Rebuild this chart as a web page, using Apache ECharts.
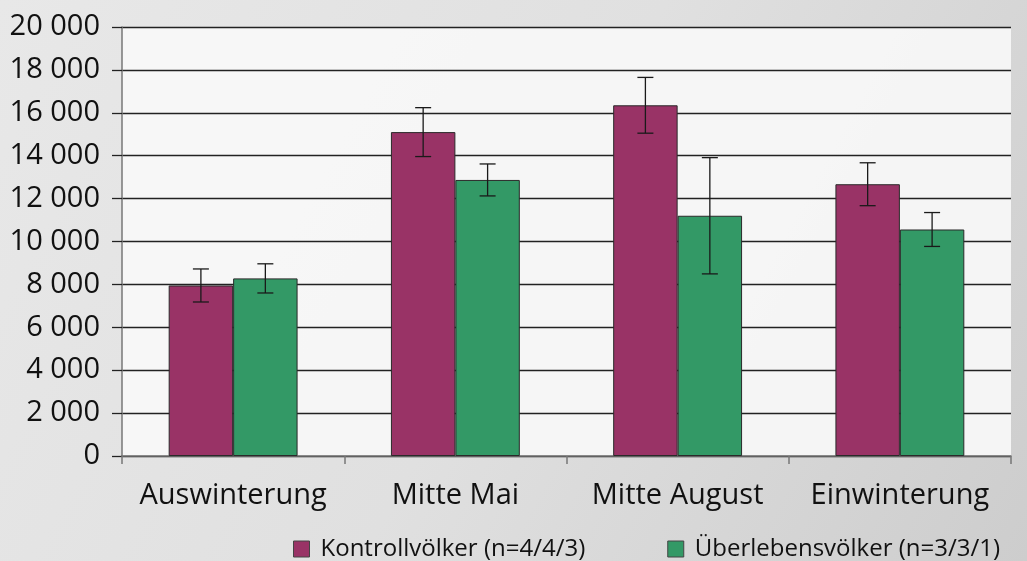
<!DOCTYPE html>
<html style="height: 100%;width:100%">
<head>
	<title>Chart Report</title>
	<meta charset="UTF-8">
	<style type="text/css">
		body{ height:100%;width:100%; margin:0px; }
		#container{ width:1027px; height:561px; }
	</style>
	<script src="https://cdn.jsdelivr.net/npm/echarts@6/dist/echarts.min.js"></script>
</head>
<body>
<div id="container"></div>

<script type="text/javascript">

// chart data
var categories = ['Auswinterung', 'Mitte Mai', 'Mitte August', 'Einwinterung'];
var seriesNames = ['Kontrollvölker (n=4/4/3)', 'Überlebensvölker (n=3/3/1)'];
var kontrollValues = [7950, 15100, 16350, 12670];
var kontrollErrors = [770, 1140, 1300, 1000];
var ueberlebenValues = [8280, 12870, 11200, 10560];
var ueberlebenErrors = [680, 745, 2710, 790];
var yTicks = [0, 2000, 4000, 6000, 8000, 10000, 12000, 14000, 16000, 18000, 20000];

var colorsList = ['#993366', '#339966'];
var fontName = "'Open Sans', 'Noto Sans', sans-serif";
var categoryGap = 0.42;

var dom = document.getElementById("container");
var myChart = echarts.init(dom);

var errorData = function(values, errors) {
	var list = [];
	for (var i = 0; i < values.length; i++) {
		list.push([i, values[i] - errors[i], values[i] + errors[i]]);
	}
	return list;
};

// draws one error bar, shifted onto its bar (side -1 = left bar, 1 = right bar)
var errorRenderer = function(side) {
	return function(params, api) {
		var idx = api.value(0);
		var low = api.coord([idx, api.value(1)]);
		var high = api.coord([idx, api.value(2)]);
		var band = api.size([1, 0])[0];
		var x = low[0] + side * band * (1 - categoryGap) / 4;
		var capHalf = 8;
		var style = { stroke: '#1a1a1a', lineWidth: 1.3 };
		return {
			type: 'group',
			children: [
				{ type: 'line', shape: { x1: x, y1: high[1], x2: x, y2: low[1] }, style: style },
				{ type: 'line', shape: { x1: x - capHalf, y1: high[1], x2: x + capHalf, y2: high[1] }, style: style },
				{ type: 'line', shape: { x1: x - capHalf, y1: low[1], x2: x + capHalf, y2: low[1] }, style: style }
			]
		};
	};
};

var option = {
	backgroundColor: {
		type: 'linear', x: 0, y: 0, x2: 1, y2: 1,
		colorStops: [
			{ offset: 0, color: '#e8e8e8' },
			{ offset: 0.5, color: '#e0e0e0' },
			{ offset: 1, color: '#cdcdcd' }
		]
	},
	textStyle: {
		fontFamily: fontName
	},
	color: colorsList,
	animation: false,
	grid: {
		left: 122,
		right: 16,
		top: 27,
		bottom: 105,
		show: true,
		borderWidth: 0,
		backgroundColor: 'rgba(248,248,248,0.9)'
	},
	legend: {
		data: seriesNames,
		left: 288,
		top: 532,
		itemWidth: 16,
		itemHeight: 16,
		itemGap: 82,
		icon: 'rect',
		itemStyle: { borderColor: '#444', borderWidth: 1 },
		textStyle: { fontSize: 24, color: '#111', fontFamily: fontName, padding: [0, 0, 0, 6] }
	},
	xAxis: {
		type: 'category',
		data: categories,
		axisLine: { lineStyle: { color: '#777', width: 1.5 } },
		axisTick: { show: true, interval: 0, length: 8, lineStyle: { color: '#777', width: 1.5 } },
		axisLabel: { interval: 0, hideOverlap: false, fontSize: 29, color: '#111', margin: 25, fontFamily: fontName }
	},
	yAxis: {
		type: 'value',
		min: 0,
		max: 20000,
		interval: 2000,
		axisLine: { show: true, lineStyle: { color: '#777', width: 1.5 } },
		axisTick: { show: true, length: 10, lineStyle: { color: '#222', width: 1.3 } },
		splitLine: { lineStyle: { color: '#222', width: 1.3 } },
		axisLabel: {
			fontSize: 29,
			color: '#111',
			margin: 22,
			fontFamily: fontName,
			formatter: function(v) {
				if (yTicks.indexOf(v) < 0) return '';
				return String(v).replace(/\B(?=(\d{3})+(?!\d))/g, ' ');
			}
		}
	},
	series: [{
		name: seriesNames[0],
		type: 'bar',
		data: kontrollValues,
		barGap: '0%',
		barCategoryGap: (categoryGap * 100) + '%',
		itemStyle: { color: colorsList[0], borderColor: '#2a2a2a', borderWidth: 1 }
	}, {
		name: seriesNames[1],
		type: 'bar',
		data: ueberlebenValues,
		barGap: '0%',
		barCategoryGap: (categoryGap * 100) + '%',
		itemStyle: { color: colorsList[1], borderColor: '#2a2a2a', borderWidth: 1 }
	}, {
		type: 'custom',
		renderItem: errorRenderer(-1),
		data: errorData(kontrollValues, kontrollErrors),
		encode: { x: 0, y: [1, 2] },
		z: 10
	}, {
		type: 'custom',
		renderItem: errorRenderer(1),
		data: errorData(ueberlebenValues, ueberlebenErrors),
		encode: { x: 0, y: [1, 2] },
		z: 10
	}]
};

if (option && typeof option === "object") {
	myChart.setOption(option, true);
}

window.onresize = function() {
	myChart.resize();
};

</script>
</body>
</html>
